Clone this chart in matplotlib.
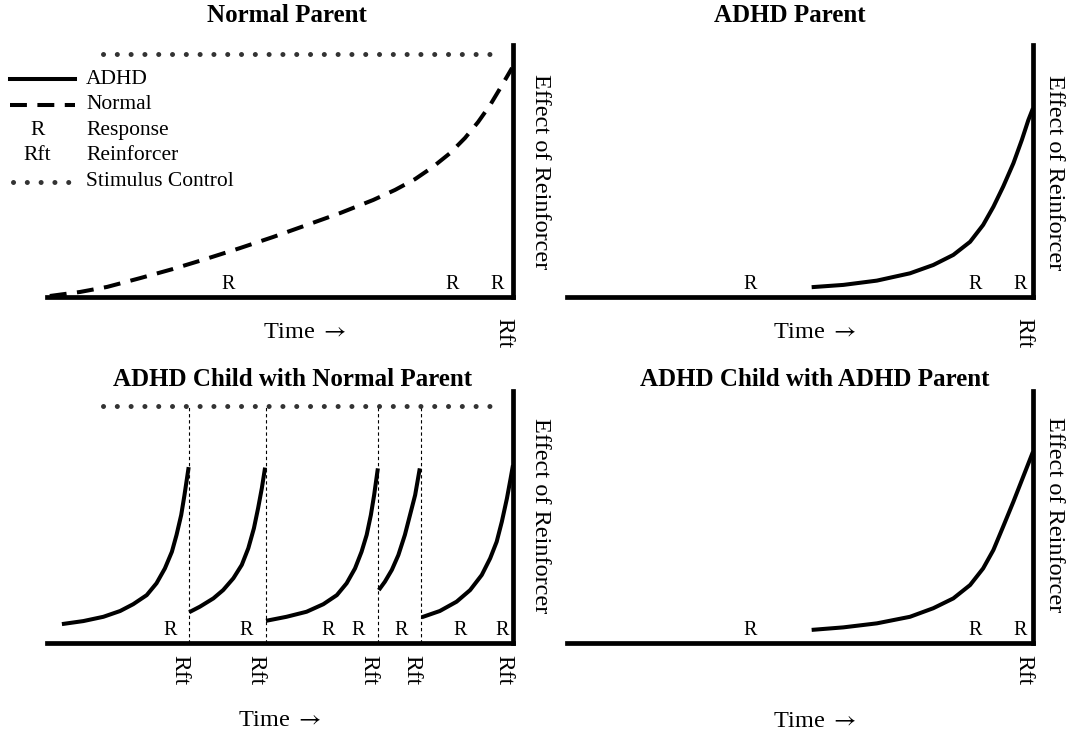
"""Four-panel sketch: effect of a reinforcer over time, ADHD vs normal, with stimulus control."""

import matplotlib

matplotlib.use("Agg")
import matplotlib.pyplot as plt

plt.rcParams["font.family"] = ["Liberation Serif", "DejaVu Serif"]
plt.rcParams["mathtext.fontset"] = "stix"

# -----------------------------------------------------------------------------
# Data (time 0-100 along the x axis, effect of reinforcer 0-100 up the y axis)
# -----------------------------------------------------------------------------

TITLES = ["Normal Parent", "ADHD Parent",
          "ADHD Child with Normal Parent", "ADHD Child with ADHD Parent"]

# top left: normal child, dashed delay curve
NORMAL_X = [0.6, 7.1, 12.9, 20.0, 27.0, 34.1, 41.4, 48.5, 55.8, 62.9, 70.0,
            74.7, 79.0, 82.8, 86.5, 89.7, 92.5, 95.1, 97.4, 99.8]
NORMAL_Y = [0.4, 2.0, 4.0, 7.5, 11.1, 15.1, 19.4, 23.8, 28.6, 33.3, 38.5,
            42.5, 46.8, 51.6, 57.1, 63.1, 69.4, 76.2, 83.3, 90.9]
NORMAL_R = [38.8, 86.9, 96.6]

# top right: ADHD child, ADHD parent
ADHD_PARENT_X = [52.5, 59.3, 66.5, 73.6, 78.6, 82.9, 86.5, 89.3, 91.5, 93.6, 95.8, 97.6, 99.0, 100.0]
ADHD_PARENT_Y = [3.9, 4.8, 6.5, 9.4, 12.7, 16.7, 21.9, 28.6, 35.8, 43.8, 53.1, 62.3, 70.2, 74.9]
ADHD_PARENT_R = [39.3, 87.6, 97.2]

# bottom left: ADHD child with a normal parent, one curve per reinforcer
SEG1_X = [3.2, 7.8, 12.1, 15.7, 18.5, 21.4, 23.5, 25.3, 26.8, 27.8, 28.8, 29.5, 30.4]
SEG1_Y = [7.5, 8.7, 10.4, 12.7, 15.4, 19.0, 23.7, 29.6, 36.2, 42.9, 50.8, 58.7, 69.8]
SEG2_X = [30.5, 32.8, 35.7, 37.8, 40.0, 41.8, 43.2, 44.4, 45.3, 46.1, 46.8]
SEG2_Y = [12.2, 14.4, 17.7, 21.0, 25.7, 31.0, 37.6, 45.5, 53.5, 61.4, 69.6]
SEG3_X = [47.0, 51.4, 55.7, 59.3, 62.2, 64.3, 66.1, 67.5, 68.6, 69.5, 70.2, 71.0]
SEG3_Y = [8.8, 10.4, 12.4, 15.4, 19.0, 23.7, 29.6, 36.2, 42.9, 50.8, 58.7, 69.3]
SEG4_X = [71.2, 72.5, 74.0, 75.4, 76.8, 77.9, 79.0, 80.0]
SEG4_Y = [21.0, 24.3, 29.0, 34.9, 42.9, 50.8, 58.7, 69.3]
SEG5_X = [80.4, 84.3, 87.9, 90.8, 93.3, 95.1, 96.5, 97.6, 98.7, 99.5, 100.0]
SEG5_Y = [10.2, 12.7, 16.4, 21.0, 27.0, 33.6, 40.2, 48.1, 57.4, 65.4, 70.6]
CHILD_NORMAL_RFT = [30.5, 46.9, 71.1, 80.2, 100.0]
CHILD_NORMAL_R = [26.4, 42.8, 60.4, 66.8, 76.1, 88.6, 97.6]

# bottom right: ADHD child with an ADHD parent
CHILD_ADHD_X = [52.5, 59.3, 66.5, 73.6, 78.6, 82.9, 86.5, 89.3, 91.5, 93.6, 95.8, 97.9, 100.0]
CHILD_ADHD_Y = [5.2, 6.2, 7.8, 10.4, 13.8, 17.7, 23.0, 29.6, 36.9, 46.2, 56.1, 66.0, 75.9]
CHILD_ADHD_R = [39.3, 87.6, 97.2]

# stimulus control (dotted line) spans, top left and bottom left
STIM_TOP = [12.0, 96.8]
STIM_TOP_Y = 96.4
STIM_BOTTOM = [12.0, 96.8]
STIM_BOTTOM_Y = 94.0

LEGEND_LABELS = ["ADHD", "Normal", "Response", "Reinforcer", "Stimulus Control"]


# -----------------------------------------------------------------------------
# Styles and helpers
# -----------------------------------------------------------------------------

BLACK = "black"
CURVE_LW = 2.9
AXIS_LW = 3.4
DASHED = (0, (4.2, 2.6))
DOTTED = (0, (0.01, 2.75))
R_SIZE = 14.5
LEG_SIZE = 15.5
LABEL_SIZE = 17.5
TITLE_SIZE = 18
TIME_TEXT = r"Time $\rightarrow$"


def make_panel(fig, left, bottom):
    ax = fig.add_axes([left, bottom, 466 / 1067, 252 / 733])
    ax.set_xlim(0, 100)
    ax.set_ylim(0, 100)
    for side in ("top", "left"):
        ax.spines[side].set_visible(False)
    for side in ("bottom", "right"):
        ax.spines[side].set_linewidth(AXIS_LW)
        ax.spines[side].set_capstyle("projecting")
    ax.set_xticks([])
    ax.set_yticks([])
    ax.patch.set_alpha(0)
    return ax


def curve(ax, xs, ys, **kw):
    ax.plot(xs, ys, color=BLACK, lw=CURVE_LW, clip_on=False,
            solid_capstyle="butt", solid_joinstyle="round", **kw)


def stimulus(ax, xs, y):
    ax.plot(xs, [y, y], color="#333333", lw=3.6, ls=DOTTED, dash_capstyle="round", clip_on=False)


def r_marks(ax, xs):
    for x in xs:
        ax.text(x, 1.0, "R", fontsize=R_SIZE, ha="center", va="bottom")


def rft(ax, x, y):
    ax.text(x - 2.0, y, "Rft", fontsize=17, rotation=270, ha="center", va="center")


def side_label(ax, x, y):
    ax.text(x, y, "Effect of Reinforcer", fontsize=LABEL_SIZE, rotation=270, ha="center", va="center")


fig = plt.figure(figsize=(10.67, 7.33), dpi=100)

ax_tl = make_panel(fig, 47 / 1067, (733 - 297) / 733)
ax_tr = make_panel(fig, 567 / 1067, (733 - 297) / 733)
ax_bl = make_panel(fig, 47 / 1067, (733 - 643) / 733)
ax_br = make_panel(fig, 567 / 1067, (733 - 643) / 733)

# --- top left: Normal Parent -------------------------------------------------
curve(ax_tl, NORMAL_X, NORMAL_Y, ls=DASHED)
stimulus(ax_tl, STIM_TOP, STIM_TOP_Y)
r_marks(ax_tl, NORMAL_R)
rft(ax_tl, 100, -14.3)
side_label(ax_tl, 105.8, 49.6)
ax_tl.text(55.4, -13.9, TIME_TEXT, fontsize=LABEL_SIZE, ha="center", va="center")
ax_tl.text(51.5, 111.9, TITLES[0], fontsize=TITLE_SIZE, fontweight="bold", ha="center", va="center")

# hand-made legend in the top-left panel
leg_y = [86.5, 76.2, 66.0, 56.0, 45.8]
ax_tl.plot([-7.9, 6.0], [leg_y[0]] * 2, color=BLACK, lw=CURVE_LW, clip_on=False)
ax_tl.plot([-7.9, 6.0], [leg_y[1]] * 2, color=BLACK, lw=CURVE_LW, ls=DASHED, clip_on=False)
ax_tl.text(-2.1, leg_y[2], "R", fontsize=LEG_SIZE, ha="center", va="center")
ax_tl.text(-2.1, leg_y[3], "Rft", fontsize=LEG_SIZE, ha="center", va="center")
ax_tl.plot([-7.4, 5.4], [leg_y[4]] * 2, color="#333333", lw=3.6, ls=DOTTED,
           dash_capstyle="round", clip_on=False)
for y, label in zip(leg_y, LEGEND_LABELS):
    ax_tl.text(8.4, y, label, fontsize=LEG_SIZE, ha="left", va="center")

# --- top right: ADHD Parent --------------------------------------------------
curve(ax_tr, ADHD_PARENT_X, ADHD_PARENT_Y)
r_marks(ax_tr, ADHD_PARENT_R)
rft(ax_tr, 100, -14.3)
side_label(ax_tr, 104.7, 49.2)
ax_tr.text(53.2, -13.9, TIME_TEXT, fontsize=LABEL_SIZE, ha="center", va="center")
ax_tr.text(47.9, 111.9, TITLES[1], fontsize=TITLE_SIZE, fontweight="bold", ha="center", va="center")

# --- bottom left: ADHD child with Normal Parent ------------------------------
for xs, ys in [(SEG1_X, SEG1_Y), (SEG2_X, SEG2_Y), (SEG3_X, SEG3_Y),
               (SEG4_X, SEG4_Y), (SEG5_X, SEG5_Y)]:
    curve(ax_bl, xs, ys)
for x in CHILD_NORMAL_RFT[:-1]:
    ax_bl.plot([x, x], [0, STIM_BOTTOM_Y], color=BLACK, lw=0.8, ls=(0, (3, 2.5)))
stimulus(ax_bl, STIM_BOTTOM, STIM_BOTTOM_Y)
r_marks(ax_bl, CHILD_NORMAL_R)
for x in CHILD_NORMAL_RFT:
    rft(ax_bl, x, -10.7)
side_label(ax_bl, 105.8, 50.4)
ax_bl.text(50, -30.6, TIME_TEXT, fontsize=LABEL_SIZE, ha="center", va="center")
ax_bl.text(52.6, 104.4, TITLES[2], fontsize=TITLE_SIZE, fontweight="bold", ha="center", va="center")

# --- bottom right: ADHD child with ADHD Parent -------------------------------
curve(ax_br, CHILD_ADHD_X, CHILD_ADHD_Y)
r_marks(ax_br, CHILD_ADHD_R)
rft(ax_br, 100, -10.7)
side_label(ax_br, 104.7, 50.8)
ax_br.text(53.2, -31.3, TIME_TEXT, fontsize=LABEL_SIZE, ha="center", va="center")
ax_br.text(53.2, 104.4, TITLES[3], fontsize=TITLE_SIZE, fontweight="bold", ha="center", va="center")

fig.savefig("out.png", dpi=100, facecolor="white")
